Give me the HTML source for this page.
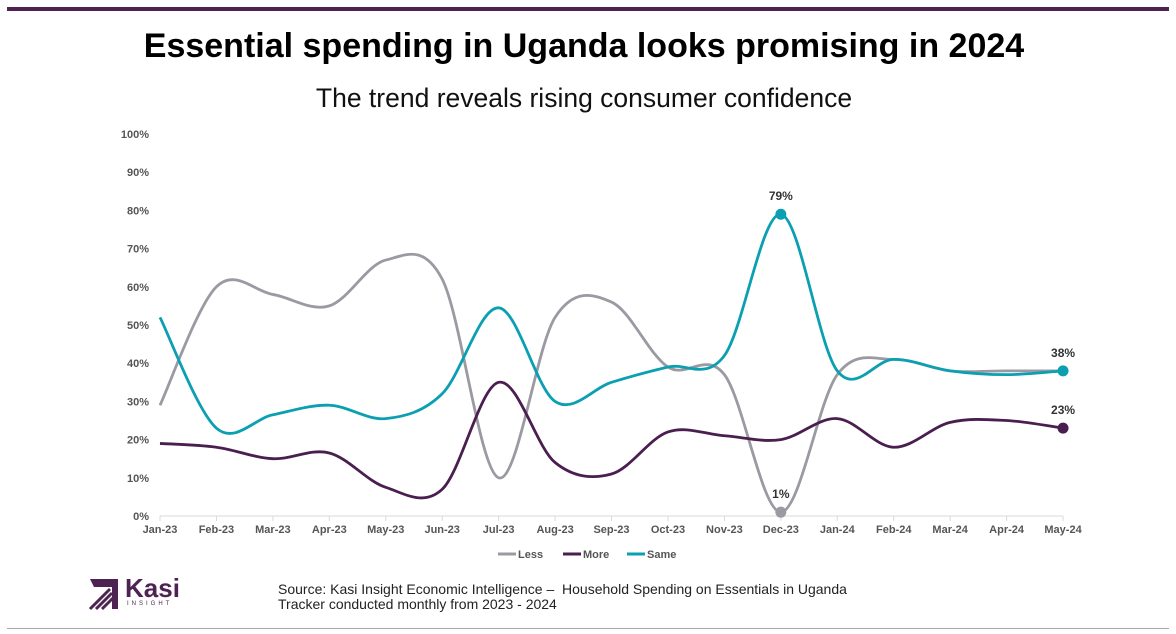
<!DOCTYPE html>
<html><head><meta charset="utf-8"><style>
body{margin:0;background:#fff;width:1176px;height:634px;overflow:hidden;font-family:"Liberation Sans",sans-serif;position:relative}
.t{position:absolute;left:0;width:1168px;text-align:center}
</style></head><body>
<div style="position:absolute;left:7px;top:7px;width:1162px;height:4px;background:#4e2353"></div>
<div class="t" style="top:27px;font-size:34px;font-weight:bold;color:#000">Essential spending in Uganda looks promising in 2024</div>
<div class="t" style="top:83px;font-size:26.5px;color:#111">The trend reveals rising consumer confidence</div>
<svg id="c" width="1176" height="634" style="position:absolute;left:0;top:0" font-family="Liberation Sans, sans-serif"></svg>
<div style="position:absolute;left:278px;top:582px;font-size:14px;color:#222;line-height:15px">Source: Kasi Insight Economic Intelligence –&nbsp; Household Spending on Essentials in Uganda<br>Tracker conducted monthly from 2023 - 2024</div>
<div style="position:absolute;left:88px;top:577px;width:30px;height:32px">
<svg width="32" height="34"><polygon points="2,2 30,2 30,32 24,32 24,10 6,10" fill="#4e2353"/><path d="M2,32 L22,12 M8,32 L24,16 M14,32 L26,20" stroke="#4e2353" stroke-width="3"/></svg></div>
<div style="position:absolute;left:125px;top:573px;font-size:26px;font-weight:bold;color:#4e2353">Kasi</div>
<div style="position:absolute;left:127px;top:601px;font-size:6px;letter-spacing:3px;color:#4e2353">INSIGHT</div>
<div style="position:absolute;left:7px;top:628px;width:1162px;height:1px;background:#aaa"></div>
<script>
const s=document.getElementById('c');let h='';
const X=i=>160+i*56.44,Y=v=>516-v*3.82;
for(let v=0;v<=100;v+=10)h+=`<text x="149" y="${Y(v)+4}" font-size="11" font-weight="bold" fill="#555" text-anchor="end">${v}%</text>`;
h+=`<line x1="160" y1="516" x2="1063" y2="516" stroke="#d9d9d9"/>`;
const m=['Jan-23','Feb-23','Mar-23','Apr-23','May-23','Jun-23','Jul-23','Aug-23','Sep-23','Oct-23','Nov-23','Dec-23','Jan-24','Feb-24','Mar-24','Apr-24','May-24'];
m.forEach((l,i)=>{h+=`<line x1="${X(i)}" y1="516" x2="${X(i)}" y2="521" stroke="#d9d9d9"/><text x="${X(i)}" y="533" font-size="11" font-weight="bold" fill="#555" text-anchor="middle">${l}</text>`});
const D={less:[29,60,58,55,67,62,10,52,56,39,37,1,37,41,38,38,38],more:[19,18,15,16.5,7.5,7,35,14,11,22,21,20,25.5,18,24.5,25,23],same:[52,23,26.5,29,25.5,32,54.5,30,35,39,42,79,38,41,38,37,38]};
const C={less:'#9b99a1',more:'#4a1e4f',same:'#0aa0b2'};
function path(a){const p=a.map((v,i)=>[X(i),Y(v)]);let d=`M${p[0]}`;for(let i=0;i<p.length-1;i++){const p0=p[i-1]||p[i],p1=p[i],p2=p[i+1],p3=p[i+2]||p2;const k=1/6;d+=` C${p1[0]+(p2[0]-p0[0])*k},${p1[1]+(p2[1]-p0[1])*k} ${p2[0]-(p3[0]-p1[0])*k},${p2[1]-(p3[1]-p1[1])*k} ${p2[0]},${p2[1]}`}return d}
for(const k of ['less','more','same'])h+=`<path d="${path(D[k])}" fill="none" stroke="${C[k]}" stroke-width="2.8"/>`;
const dot=(i,v,c,l,dy)=>h+=`<circle cx="${X(i)}" cy="${Y(v)}" r="5.5" fill="${c}"/><text x="${X(i)}" y="${Y(v)+dy}" font-size="12" font-weight="bold" fill="#333" text-anchor="middle">${l}</text>`;
dot(11,79,C.same,'79%',-14);dot(11,1,C.less,'1%',-14);dot(16,38,C.same,'38%',-14);dot(16,23,C.more,'23%',-14);
const lg=[['Less',C.less,498],['More',C.more,563],['Same',C.same,627]];
lg.forEach(([t,c,x])=>h+=`<line x1="${x}" y1="554" x2="${x+18}" y2="554" stroke="${c}" stroke-width="3"/><text x="${x+20}" y="558" font-size="11" font-weight="bold" fill="#555">${t}</text>`);
s.innerHTML=h;
</script>
</body></html>
